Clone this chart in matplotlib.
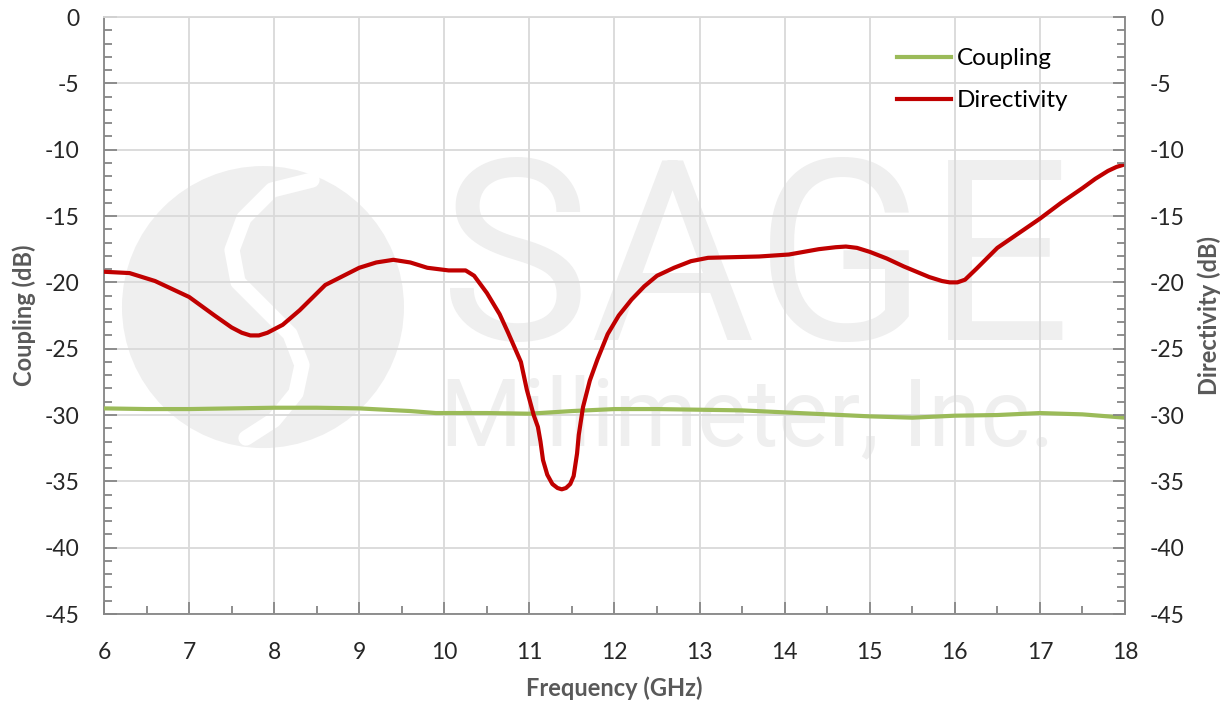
import matplotlib
matplotlib.use('Agg')
import matplotlib.pyplot as plt
from matplotlib.patches import Ellipse
from matplotlib.ticker import MultipleLocator

# coupling (dB) vs frequency (GHz)
freq_cpl = [6.0, 6.5, 7.0, 7.5, 8.0, 8.5, 9.0, 9.3, 9.6, 9.9, 10.5, 11.0, 11.5,
            12.0, 12.5, 13.0, 13.5, 14.0, 14.5, 15.0, 15.5, 16.0, 16.5, 17.0,
            17.5, 18.0]
coupling = [-29.5, -29.55, -29.55, -29.5, -29.45, -29.45, -29.5, -29.6, -29.7,
            -29.85, -29.85, -29.9, -29.7, -29.55, -29.55, -29.6, -29.65, -29.8,
            -29.95, -30.1, -30.2, -30.05, -30.0, -29.85, -29.95, -30.2]

# directivity (dB) vs frequency (GHz)
freq_dir = [6.0, 6.3, 6.6, 7.0, 7.3, 7.5, 7.62, 7.72, 7.82, 7.92, 8.1, 8.3,
            8.6, 9.0, 9.2, 9.4, 9.6, 9.8, 10.05, 10.25, 10.35, 10.5, 10.65,
            10.75, 10.9, 10.97, 11.05, 11.1, 11.13, 11.16, 11.21, 11.27, 11.33,
            11.38, 11.43, 11.48, 11.52, 11.56, 11.58, 11.63, 11.71, 11.8,
            11.92, 12.05, 12.2, 12.35, 12.5, 12.7, 12.9, 13.1, 13.4, 13.7,
            14.05, 14.4, 14.6, 14.72, 14.85, 15.0, 15.2, 15.4, 15.7, 15.85,
            15.94, 16.03, 16.12, 16.25, 16.5, 16.75, 17.0, 17.25, 17.5, 17.65,
            17.8, 17.9, 18.0]
directivity = [-19.2, -19.3, -19.9, -21.1, -22.5, -23.4, -23.8, -24.0, -24.0,
               -23.8, -23.2, -22.1, -20.2, -18.9, -18.5, -18.3, -18.5, -18.9,
               -19.1, -19.1, -19.5, -20.8, -22.4, -23.8, -26.0, -28.1, -30.0,
               -30.9, -32.0, -33.4, -34.5, -35.2, -35.5, -35.6, -35.5, -35.2,
               -34.6, -32.9, -31.5, -29.4, -27.4, -25.8, -23.9, -22.5, -21.3,
               -20.3, -19.5, -18.9, -18.4, -18.15, -18.1, -18.05, -17.9, -17.5,
               -17.35, -17.3, -17.4, -17.7, -18.2, -18.8, -19.6, -19.9, -20.0,
               -20.0, -19.8, -19.0, -17.4, -16.3, -15.2, -14.0, -12.9, -12.2,
               -11.6, -11.3, -11.1]

x_ticks = list(range(6, 19))
y_ticks = list(range(-45, 1, 5))

plt.rcParams['font.family'] = ['Lato', 'DejaVu Sans']
plt.rcParams['axes.unicode_minus'] = False

axis_gray = '#868686'
grid_gray = '#d9d9d9'
wm_gray = '#efefef'

fig = plt.figure(figsize=(12.28, 7.04), dpi=100)
ax = fig.add_axes([0.0847, 0.1278, 0.8314, 0.8480])

# faint company watermark behind the data
ax.add_patch(Ellipse((0.1557, 0.5142), 0.2762, 0.4724, transform=ax.transAxes,
                     color=wm_gray, zorder=0.1, lw=0))
swoosh_px = [(312, 180), (272, 190), (244, 218), (232, 250), (238, 282),
             (262, 306), (290, 334), (302, 365), (296, 393), (274, 420),
             (246, 438)]
sx = [(p[0] - 104) / 1021 for p in swoosh_px]
sy = [1 - (p[1] - 17) / 597 for p in swoosh_px]
ax.plot(sx, sy, color='white', lw=11, solid_capstyle='round',
        transform=ax.transAxes, zorder=0.15)
ax.text(0.329, 0.459, 'SAGE', transform=ax.transAxes, fontsize=182,
        family='Roboto', color=wm_gray, ha='left', va='baseline', zorder=0.2)
ax.text(0.329, 0.283, 'Millimeter, Inc.', transform=ax.transAxes,
        fontsize=68, family='Roboto', color=wm_gray, ha='left',
        va='baseline', zorder=0.2)

ax.plot(freq_cpl, coupling, color='#9bbb59', lw=3, label='Coupling', zorder=3)
ax.plot(freq_dir, directivity, color='#c00000', lw=3, label='Directivity',
        zorder=4)

ax.set_xlim(6, 18)
ax.set_ylim(-45, 0)
ax.set_xticks(x_ticks)
ax.set_yticks(y_ticks)
ax.xaxis.set_minor_locator(MultipleLocator(0.5))
ax.yaxis.set_minor_locator(MultipleLocator(1))
ax.set_axisbelow(True)
ax.grid(True, which='major', color=grid_gray, lw=1.3)

for s in ['left', 'bottom']:
    ax.spines[s].set_color(axis_gray)
    ax.spines[s].set_linewidth(1.3)
ax.spines['top'].set_color(grid_gray)
ax.spines['top'].set_linewidth(1.3)
ax.spines['right'].set_visible(False)

ax.tick_params(which='both', direction='in', color=axis_gray, width=1.3,
               labelsize=16.5, labelcolor='#262626')
ax.tick_params(which='major', length=9)
ax.tick_params(which='minor', length=6)
ax.tick_params(axis='x', pad=20)
ax.tick_params(axis='y', pad=18)

ax.set_xlabel('Frequency (GHz)', fontsize=17, fontweight='bold',
              color='#595959', labelpad=10)
ax.set_ylabel('Coupling (dB)', fontsize=17, fontweight='bold',
              color='#595959', labelpad=6)

ax2 = ax.twinx()
ax2.set_ylim(-45, 0)
ax2.set_yticks(y_ticks)
ax2.yaxis.set_minor_locator(MultipleLocator(1))
for s in ['left', 'top', 'bottom']:
    ax2.spines[s].set_visible(False)
ax2.spines['right'].set_color(axis_gray)
ax2.spines['right'].set_linewidth(1.3)
ax2.tick_params(which='both', direction='in', color=axis_gray, width=1.3,
                labelsize=16.5, labelcolor='#262626', pad=18)
ax2.tick_params(which='major', length=9)
ax2.tick_params(which='minor', length=6)
ax2.set_ylabel('Directivity (dB)', fontsize=17, fontweight='bold',
               color='#595959', labelpad=9)

ax.legend(loc='upper right', bbox_to_anchor=(0.966, 0.984), frameon=False,
          fontsize=17.5, handlelength=2.2, handletextpad=0.25,
          labelspacing=0.85)

fig.savefig('out.png', dpi=100)
